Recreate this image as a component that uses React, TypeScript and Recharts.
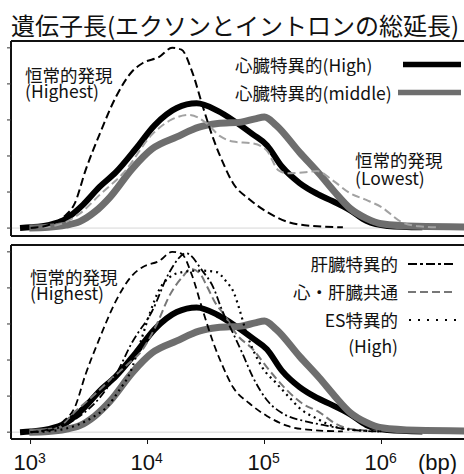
import { Line, LineChart, ReferenceLine, XAxis, YAxis } from 'recharts'

// Gene length density (log10 bp on x), two stacked panels.

const xTicks = [3, 4, 5, 6]
const yTicks = [0, 1, 2, 3, 4, 5]
const xDomain = [2.833, 6.842]

// 心臓特異的(High) — thick black
const highX = [2.91, 3.0, 3.15, 3.3, 3.45, 3.59, 3.73, 3.9, 4.06, 4.25, 4.42, 4.6, 4.75, 4.9, 5.02, 5.15, 5.3, 5.45, 5.58, 5.73, 5.87, 6.05, 6.35]
const highY = [0, 0.02, 0.08, 0.25, 0.65, 1.14, 1.55, 2.2, 2.85, 3.33, 3.46, 3.25, 2.95, 2.6, 2.3, 1.7, 1.25, 0.95, 0.75, 0.5, 0.2, 0.06, 0.02]

// 心臓特異的(middle) — thick grey
const midX = [2.99, 3.15, 3.3, 3.42, 3.55, 3.68, 3.87, 4.04, 4.25, 4.44, 4.6, 4.8, 4.92, 5.0, 5.1, 5.3, 5.47, 5.6, 5.73, 5.87, 6.0, 6.3, 6.8]
const midY = [0, 0.02, 0.08, 0.18, 0.45, 0.86, 1.65, 2.2, 2.53, 2.8, 2.9, 2.94, 3.03, 3.08, 2.85, 2.1, 1.5, 1.0, 0.55, 0.27, 0.12, 0.05, 0.03]

// 恒常的発現(Highest) — black dashed
const highestX = [3.0, 3.15, 3.28, 3.38, 3.47, 3.59, 3.73, 3.87, 3.96, 4.1, 4.21, 4.29, 4.38, 4.47, 4.56, 4.64, 4.73, 4.87, 5.02, 5.19, 5.4, 5.67]
const highestY = [0, 0.08, 0.3, 0.7, 1.6, 2.6, 3.64, 4.35, 4.58, 4.75, 5.0, 4.95, 4.35, 3.4, 2.5, 1.85, 1.25, 0.8, 0.45, 0.18, 0.06, 0.02]

// 恒常的発現(Lowest) — grey dashed, top panel
const lowestX = [3.0, 3.2, 3.42, 3.6, 3.8, 4.04, 4.2, 4.36, 4.5, 4.62, 4.73, 4.9, 5.02, 5.12, 5.2, 5.35, 5.45, 5.58, 5.73, 5.87, 6.0, 6.17, 6.32, 6.5]
const lowestY = [0, 0.06, 0.4, 0.95, 1.55, 2.6, 3.0, 3.14, 2.92, 2.55, 2.4, 2.35, 2.15, 1.6, 1.52, 1.55, 1.58, 1.33, 0.97, 0.78, 0.58, 0.17, 0.05, 0.02]

// 肝臓特異的 — black dash-dot, bottom panel
const liverX = [3.0, 3.2, 3.4, 3.59, 3.73, 3.87, 4.04, 4.19, 4.33, 4.47, 4.56, 4.64, 4.73, 4.81, 4.9, 5.02, 5.15, 5.35, 5.5, 5.75, 6.0]
const liverY = [0, 0.08, 0.4, 0.95, 1.6, 2.5, 3.36, 4.45, 4.96, 4.47, 4.03, 3.36, 2.75, 2.19, 1.53, 0.89, 0.53, 0.3, 0.2, 0.06, 0.02]

// 心・肝臓共通 — grey dashed, bottom panel
const sharedX = [3.0, 3.2, 3.39, 3.55, 3.68, 3.82, 3.96, 4.08, 4.19, 4.3, 4.37, 4.45, 4.51, 4.57, 4.67, 4.76, 4.9, 5.04, 5.19, 5.32, 5.47, 5.6, 5.75, 6.0]
const sharedY = [0, 0.06, 0.6, 1.05, 1.45, 1.85, 2.3, 3.0, 3.8, 4.31, 4.53, 4.39, 4.03, 3.64, 3.19, 2.72, 2.3, 1.72, 1.17, 0.8, 0.55, 0.25, 0.08, 0.03]

// ES特異的(High) — black dotted, bottom panel
const esX = [3.0, 3.2, 3.4, 3.55, 3.65, 3.76, 3.85, 3.95, 4.02, 4.1, 4.19, 4.3, 4.45, 4.59, 4.67, 4.74, 4.79, 4.84, 4.9, 4.98, 5.1, 5.21, 5.32, 5.44, 5.6, 5.8, 6.0]
const esY = [0, 0.04, 0.2, 0.45, 0.69, 1.17, 1.64, 2.6, 3.3, 3.95, 4.3, 4.44, 4.48, 4.44, 4.19, 3.85, 3.36, 2.8, 2.3, 1.8, 1.36, 0.97, 0.61, 0.39, 0.15, 0.05, 0.02]

const pts = (xs: number[], ys: number[]) => xs.map((x, i) => ({ x, y: ys[i] }))

const high = pts(highX, highY)
const mid = pts(midX, midY)
const highest = pts(highestX, highestY)
const lowest = pts(lowestX, lowestY)
const liver = pts(liverX, liverY)
const shared = pts(sharedX, sharedY)
const es = pts(esX, esY)

const JP = "'Noto Sans CJK JP', sans-serif"
const LATIN = "'Liberation Sans', Arial, sans-serif"

function PowerTick({ x, y, payload }: { x?: number; y?: number; payload?: { value: number } }) {
  if (x == null || y == null || !payload) return null
  return (
    <text x={x - 17} y={y + 26} fontFamily={LATIN} fontSize={22} fill="#111">
      10
      <tspan fontSize={14} dy={-7}>
        {payload.value}
      </tspan>
    </text>
  )
}

function Frame({ yMax }: { yMax: number }) {
  return (
    <>
      <ReferenceLine y={0} stroke="#d6d6d6" strokeWidth={1} />
      <ReferenceLine y={yMax} stroke="#111" strokeWidth={2} />
    </>
  )
}

const thick = { type: 'monotone' as const, dataKey: 'y', dot: false, isAnimationActive: false, strokeLinecap: 'butt' as const }

function TopPanel() {
  const yMax = 5.19
  return (
    <LineChart width={480} height={241} margin={{ top: 41, right: 0, bottom: 0, left: 0 }}>
      <XAxis
        type="number"
        dataKey="x"
        domain={xDomain}
        ticks={xTicks}
        allowDataOverflow
        height={5}
        tickSize={5}
        tick={false}
        axisLine={{ stroke: '#111', strokeWidth: 2 }}
        tickLine={{ stroke: '#111' }}
      />
      <YAxis
        type="number"
        domain={[-0.22, yMax]}
        ticks={yTicks}
        allowDataOverflow
        width={11}
        tickSize={4}
        tickFormatter={() => ''}
        axisLine={{ stroke: '#111', strokeWidth: 2 }}
        tickLine={{ stroke: '#333' }}
      />
      {Frame({ yMax })}
      <Line {...thick} data={high} stroke="#000" strokeWidth={6} />
      <Line {...thick} data={mid} stroke="#6e6e6e" strokeWidth={7} />
      <Line {...thick} data={lowest} stroke="#a2a2a2" strokeWidth={2} strokeDasharray="8 4" />
      <Line {...thick} data={highest} stroke="#000" strokeWidth={2} strokeDasharray="8 4" />
    </LineChart>
  )
}

function BottomPanel() {
  const yMax = 5.19
  return (
    <LineChart width={480} height={234} margin={{ top: 5, right: 0, bottom: 0, left: 0 }}>
      <XAxis
        type="number"
        dataKey="x"
        domain={xDomain}
        ticks={xTicks}
        allowDataOverflow
        height={35}
        tickSize={5}
        tickMargin={0}
        tick={<PowerTick />}
        axisLine={{ stroke: '#111', strokeWidth: 2 }}
        tickLine={{ stroke: '#111' }}
      />
      <YAxis
        type="number"
        domain={[-0.19, yMax]}
        ticks={yTicks}
        allowDataOverflow
        width={11}
        tickSize={4}
        tickFormatter={() => ''}
        axisLine={{ stroke: '#111', strokeWidth: 2 }}
        tickLine={{ stroke: '#333' }}
      />
      {Frame({ yMax })}
      <Line {...thick} data={high} stroke="#000" strokeWidth={6} />
      <Line {...thick} data={mid} stroke="#6e6e6e" strokeWidth={7} />
      <Line {...thick} data={shared} stroke="#777" strokeWidth={2} strokeDasharray="8 4" />
      <Line {...thick} data={es} stroke="#000" strokeWidth={2.2} strokeDasharray="2 4" />
      <Line {...thick} data={liver} stroke="#000" strokeWidth={1.8} strokeDasharray="8 3 2 3" />
      <Line {...thick} data={highest} stroke="#000" strokeWidth={1.8} strokeDasharray="7 4" />
    </LineChart>
  )
}

function Labels() {
  return (
    <svg width={464} height={474} style={{ position: 'absolute', left: 0, top: 0, pointerEvents: 'none' }}>
      <text x={11} y={35} fontFamily={JP} fontSize={24} fill="#111">
        遺伝子長(エクソンとイントロンの総延長)
      </text>

      <g fontFamily={JP} fontSize={17.5} fill="#111">
        <text x={25} y={82}>恒常的発現</text>
        <text x={25} y={98}>(Highest)</text>
        <text x={235} y={72}>心臓特異的(High)</text>
        <text x={235} y={100}>心臓特異的(middle)</text>
        <text x={355} y={167}>恒常的発現</text>
        <text x={355} y={185}>(Lowest)</text>

        <text x={30} y={284}>恒常的発現</text>
        <text x={30} y={300}>(Highest)</text>
        <text x={398} y={271} textAnchor="end">肝臓特異的</text>
        <text x={398} y={299} textAnchor="end">心・肝臓共通</text>
        <text x={398} y={327} textAnchor="end">ES特異的</text>
        <text x={398} y={353} textAnchor="end">(High)</text>
      </g>

      <line x1={403} x2={461} y1={64.5} y2={64.5} stroke="#000" strokeWidth={5.5} />
      <line x1={398} x2={461} y1={92.5} y2={92.5} stroke="#6e6e6e" strokeWidth={5.5} />

      <line x1={408} x2={456} y1={264} y2={264} stroke="#000" strokeWidth={2} strokeDasharray="9 3 3 3" />
      <line x1={408} x2={456} y1={292} y2={292} stroke="#777" strokeWidth={2} strokeDasharray="8 4" />
      <line x1={409} x2={456} y1={320} y2={320} stroke="#000" strokeWidth={2.2} strokeDasharray="2 7" />

      <text x={418} y={470} fontFamily={LATIN} fontSize={22} fill="#111">
        (bp)
      </text>
    </svg>
  )
}

export default function App() {
  return (
    <div
      style={{
        position: 'absolute',
        left: 0,
        top: 0,
        width: 464,
        height: 474,
        overflow: 'hidden',
        background: '#fff',
      }}
    >
      <div style={{ position: 'absolute', left: 0, top: 0 }}>
        <TopPanel />
      </div>
      <div style={{ position: 'absolute', left: 0, top: 240 }}>
        <BottomPanel />
      </div>
      <Labels />
    </div>
  )
}
